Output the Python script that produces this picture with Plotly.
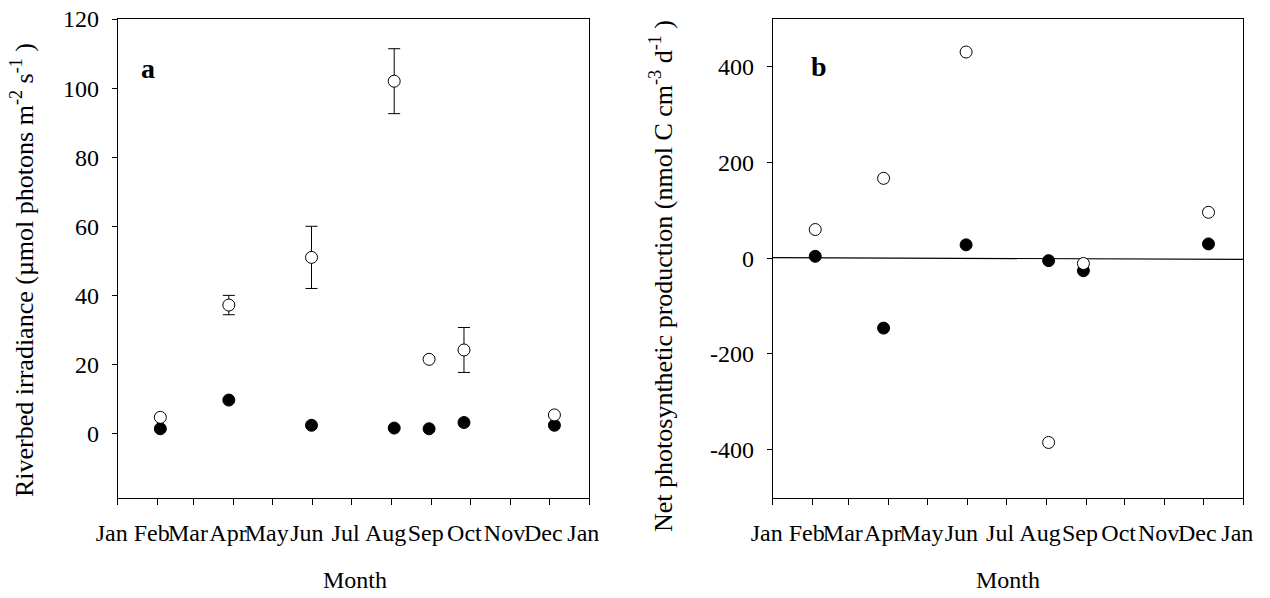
import plotly.graph_objects as go

# ---------------- data ----------------
month_names = ["Jan", "Feb", "Mar", "Apr", "May", "Jun", "Jul", "Aug", "Sep", "Oct", "Nov", "Dec", "Jan"]
month_starts = [0, 31, 59, 90, 120, 151, 181, 212, 243, 273, 304, 334, 365]

# sampling day-of-year
days_a = [33, 86, 150, 214, 241, 268, 338]
irr_open = [4.7, 37.2, 51.0, 102.0, 21.5, 24.2, 5.4]
irr_open_err = [None, 2.8, 9.0, 9.4, None, 6.5, None]
irr_filled = [1.4, 9.7, 2.4, 1.6, 1.4, 3.2, 2.4]

days_b = [33, 86, 150, 214, 241, 338]
npp_open = [60, 167, 431, -385, -11, 96]
npp_filled = [4, -146, 28, -5, -26, 30]

zero_line_x = [0, 365]
zero_line_y = [1.5, -2.5]

yticks_a = [0, 20, 40, 60, 80, 100, 120]
yticks_b = [-400, -200, 0, 200, 400]
yticklabels_b = ["-400", "-200", "0", "200", "400"]

W, H = 1270, 598
FONT = "Liberation Serif"
FS = 24
FT = 26

fig = go.Figure()

# ---- panel a ----
ex = [d for d, e in zip(days_a, irr_open_err) if e is not None]
ey = [v for v, e in zip(irr_open, irr_open_err) if e is not None]
ee = [e for e in irr_open_err if e is not None]
fig.add_trace(go.Scatter(
    x=ex, y=ey, mode="markers", xaxis="x", yaxis="y",
    marker=dict(size=11, opacity=0),
    error_y=dict(type="data", array=ee, visible=True, color="black", thickness=1, width=6),
    showlegend=False, hoverinfo="skip"))
fig.add_trace(go.Scatter(
    x=days_a, y=irr_filled, mode="markers", xaxis="x", yaxis="y",
    marker=dict(size=12, color="black", line=dict(color="black", width=1)),
    showlegend=False))
fig.add_trace(go.Scatter(
    x=days_a, y=irr_open, mode="markers", xaxis="x", yaxis="y",
    marker=dict(size=12, color="white", line=dict(color="black", width=1)),
    showlegend=False))

# ---- panel b ----
fig.add_trace(go.Scatter(
    x=zero_line_x, y=zero_line_y, mode="lines", xaxis="x2", yaxis="y2",
    line=dict(color="black", width=1.2), showlegend=False, hoverinfo="skip"))
fig.add_trace(go.Scatter(
    x=days_b, y=npp_filled, mode="markers", xaxis="x2", yaxis="y2",
    marker=dict(size=12, color="black", line=dict(color="black", width=1)),
    showlegend=False))
fig.add_trace(go.Scatter(
    x=days_b, y=npp_open, mode="markers", xaxis="x2", yaxis="y2",
    marker=dict(size=12, color="white", line=dict(color="black", width=1)),
    showlegend=False))

ydom = [1 - 497.5 / H, 1 - 19 / H]
xaxis_common = dict(
    range=[0, 365], tickmode="array", tickvals=month_starts, ticktext=month_names,
    ticks="outside", ticklen=6, tickwidth=1, tickcolor="black",
    showline=True, linecolor="black", linewidth=1, mirror=True,
    showgrid=False, zeroline=False, automargin=False, tickangle=0,
    tickfont=dict(family=FONT, size=FS, color="black"),
    ticklabelshift=-6, ticklabelstandoff=8,
)
yaxis_common = dict(
    ticks="outside", ticklen=5, tickwidth=1, tickcolor="black",
    showline=True, linecolor="black", linewidth=1, mirror=True,
    showgrid=False, zeroline=False, automargin=False,
    tickfont=dict(family=FONT, size=FS, color="black"),
    ticklabelstandoff=8,
)

fig.update_layout(
    width=W, height=H,
    margin=dict(l=0, r=0, t=0, b=0, autoexpand=False),
    paper_bgcolor="white", plot_bgcolor="white",
    font=dict(family=FONT, color="black"),
    xaxis=dict(domain=[117.7 / W, 589.3 / W], anchor="y", **xaxis_common),
    yaxis=dict(domain=ydom, anchor="x", range=[-18.5, 120],
               tickmode="array", tickvals=yticks_a, **yaxis_common),
    xaxis2=dict(domain=[772.7 / W, 1243.3 / W], anchor="y2", **xaxis_common),
    yaxis2=dict(domain=ydom, anchor="x2", range=[-500, 500],
                tickmode="array", tickvals=yticks_b, ticktext=yticklabels_b,
                **yaxis_common),
    annotations=[
        dict(text="Riverbed irradiance (µmol photons m<sup>-2</sup> s<sup>-1</sup> )",
             xref="paper", yref="paper", x=23 / W, y=1 - 270 / H, textangle=-90,
             showarrow=False, xanchor="center", yanchor="middle",
             font=dict(family=FONT, size=FT, color="black")),
        dict(text="Net photosynthetic production (nmol C cm<sup>-3</sup> d<sup>-1</sup> )",
             xref="paper", yref="paper", x=661 / W, y=1 - 276 / H, textangle=-90,
             showarrow=False, xanchor="center", yanchor="middle",
             font=dict(family=FONT, size=FT, color="black")),
        dict(text="Month", xref="paper", yref="paper", x=355 / W, y=1 - 580 / H,
             showarrow=False, xanchor="center", yanchor="middle",
             font=dict(family=FONT, size=FS, color="black")),
        dict(text="Month", xref="paper", yref="paper", x=1008 / W, y=1 - 580 / H,
             showarrow=False, xanchor="center", yanchor="middle",
             font=dict(family=FONT, size=FS, color="black")),
        dict(text="<b>a</b>", xref="paper", yref="paper", x=148 / W, y=1 - 68 / H,
             showarrow=False, xanchor="center", yanchor="middle",
             font=dict(family=FONT, size=28, color="black")),
        dict(text="<b>b</b>", xref="paper", yref="paper", x=819 / W, y=1 - 66 / H,
             showarrow=False, xanchor="center", yanchor="middle",
             font=dict(family=FONT, size=28, color="black")),
    ],
)

fig.write_html("out.html")
